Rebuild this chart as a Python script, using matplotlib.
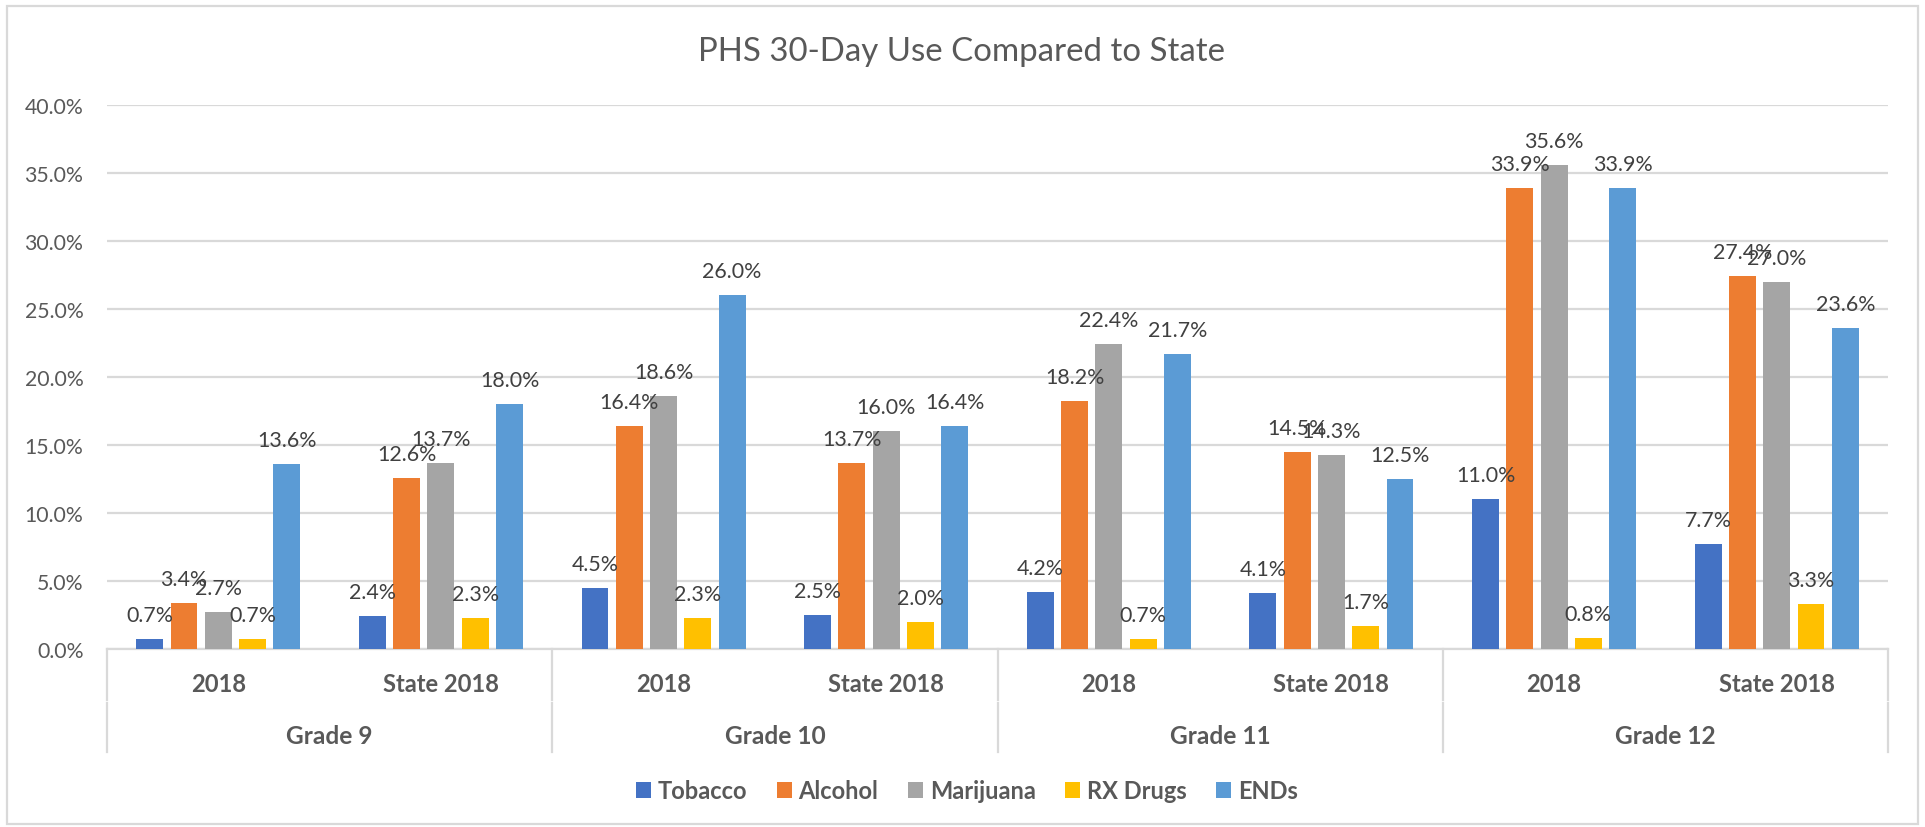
import matplotlib
matplotlib.use("Agg")
import matplotlib.pyplot as plt
from matplotlib.patches import Rectangle, Patch
import matplotlib.transforms as mtransforms
import numpy as np

plt.rcParams['font.family'] = ['Lato', 'DejaVu Sans']

title = "PHS 30-Day Use Compared to State"
groups = ["Grade 9", "Grade 10", "Grade 11", "Grade 12"]
subcats = ["2018", "State 2018"]
series = ["Tobacco", "Alcohol", "Marijuana", "RX Drugs", "ENDs"]
colors = ["#4472C4", "#ED7D31", "#A5A5A5", "#FFC000", "#5B9BD5"]

tobacco   = [0.7, 2.4, 4.5, 2.5, 4.2, 4.1, 11.0, 7.7]
alcohol   = [3.4, 12.6, 16.4, 13.7, 18.2, 14.5, 33.9, 27.4]
marijuana = [2.7, 13.7, 18.6, 16.0, 22.4, 14.3, 35.6, 27.0]
rx_drugs  = [0.7, 2.3, 2.3, 2.0, 0.7, 1.7, 0.8, 3.3]
ends      = [13.6, 18.0, 26.0, 16.4, 21.7, 12.5, 33.9, 23.6]
values = [tobacco, alcohol, marijuana, rx_drugs, ends]

yticks = [0, 5, 10, 15, 20, 25, 30, 35, 40]

W, H = 1925, 828
fig = plt.figure(figsize=(W / 100, H / 100), dpi=100)
renderer = fig.canvas.get_renderer()


def fit_size(text, target_px, weight='normal', base=15.0):
    t = fig.text(0, 0, text, fontsize=base, fontweight=weight)
    w = t.get_window_extent(renderer).width
    t.remove()
    return base * target_px / w


fs_data = fit_size("0.7%", 47)
fs_tick = fit_size("40.0%", 59)
fs_cat = fit_size("State 2018", 117, 'bold')
fs_grp = fit_size("Grade 9", 87, 'bold')
fs_leg = fit_size("Tobacco", 90, 'bold')
fs_title = fit_size(title, 528)

ax = fig.add_axes([107 / W, 1 - 650 / H, (1888 - 107) / W, (650 - 106) / H])

label_color = "#404040"
axis_color = "#595959"
grid_color = "#D9D9D9"

n_cat = len(groups) * len(subcats)
x = np.arange(n_cat)
step = 0.154
bw = 0.121
for i, (name, vals, col) in enumerate(zip(series, values, colors)):
    xs = x + (i - 2) * step
    ax.bar(xs, vals, width=bw, color=col, zorder=3)
    for xi, v in zip(xs, vals):
        ax.annotate(f"{v:.1f}%", xy=(xi, v), xytext=(0, 24), textcoords='offset pixels',
                    ha='center', va='center', fontsize=fs_data, color=label_color, zorder=4)

ax.set_xlim(-0.5, n_cat - 0.5)
ax.set_ylim(0, 40)
ax.set_yticks(yticks)
ax.set_yticklabels([f"{v:.1f}%" for v in yticks])
ax.tick_params(axis='y', length=0, pad=17, labelsize=fs_tick, labelcolor=axis_color)
ax.set_xticks([])
ax.grid(axis='y', color=grid_color, linewidth=1.6, zorder=0)
for s in ['top', 'right', 'left']:
    ax.spines[s].set_visible(False)
ax.spines['bottom'].set_color(grid_color)
ax.spines['bottom'].set_linewidth(1.6)

# multi-level category axis
trans = mtransforms.blended_transform_factory(ax.transData, ax.transAxes)
ph = 650 - 106


def ya(py):
    return -(py - 650) / ph


for k in range(len(groups) + 1):
    xb = -0.5 + 2 * k
    ax.plot([xb, xb], [0, ya(701)], transform=trans, color=grid_color, lw=1.6, clip_on=False)
    ax.plot([xb, xb], [ya(704), ya(753)], transform=trans, color=grid_color, lw=1.6, clip_on=False)

for j in range(n_cat):
    ax.text(j, ya(685), subcats[j % 2], transform=trans, ha='center', va='center',
            fontsize=fs_cat, fontweight='bold', color=axis_color)
for g, name in enumerate(groups):
    ax.text(2 * g + 0.5, ya(737), name, transform=trans, ha='center', va='center',
            fontsize=fs_grp, fontweight='bold', color=axis_color)

fig.text(962 / W, 1 - 52 / H, title, ha='center', va='center', fontsize=fs_title, color=axis_color)

handles = [Patch(facecolor=c, edgecolor='none') for c in colors]
leg = fig.legend(handles, series, loc='center', bbox_to_anchor=(967 / W, 1 - 792 / H), ncol=5,
                 frameon=False, handlelength=0.62, handleheight=0.68, handletextpad=0.3,
                 columnspacing=1.25, prop={'size': fs_leg, 'weight': 'bold'})
for t in leg.get_texts():
    t.set_color(axis_color)

fig.patches.append(Rectangle((6.5 / W, 3 / H), (1918 - 6.5) / W, (821 - 3) / H,
                             transform=fig.transFigure, fill=False, edgecolor=grid_color, lw=1.6))

fig.savefig("out.png", dpi=100, facecolor='white')
